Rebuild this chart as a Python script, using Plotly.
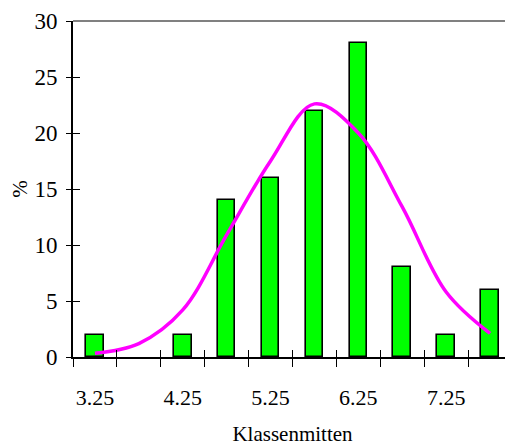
import plotly.graph_objects as go

categories = ["3.25", "3.75", "4.25", "4.75", "5.25", "5.75", "6.25", "6.75", "7.25", "7.75"]
percent = [2, 0, 2, 14, 16, 22, 28, 8, 2, 6]
normal_curve = [0.33, 1.2, 4.2, 10.9, 17.5, 22.6, 20.0, 13.4, 5.8, 2.1]
x_tick_text = ["3.25", "", "4.25", "", "5.25", "", "6.25", "", "7.25", ""]
y_tick_vals = [0, 5, 10, 15, 20, 25, 30]

FONT = "Liberation Serif"

# the page body has an 8px margin, so the figure is sized/positioned to compensate
fig = go.Figure()
fig.add_trace(go.Bar(
    x=categories, y=percent, width=0.4,
    marker=dict(color="#00FF00",
                line=dict(color="black", width=[1.6 if v > 0 else 0 for v in percent])),
    showlegend=False, hoverinfo="skip",
))
fig.add_trace(go.Scatter(
    x=categories, y=normal_curve, mode="lines",
    line=dict(color="#FF00FF", width=3.5, shape="spline", smoothing=1),
    showlegend=False, hoverinfo="skip",
))
# invisible trace to carry the overlay axes (inside half of the cross ticks)
fig.add_trace(go.Scatter(
    x=categories, y=percent, xaxis="x2", yaxis="y2", mode="lines",
    line=dict(width=0), opacity=0, showlegend=False, hoverinfo="skip",
))

cat_range = [-0.5, len(categories) - 0.5]

fig.update_layout(
    width=505, height=438,
    margin=dict(l=65, r=1, t=13, b=89),
    paper_bgcolor="white", plot_bgcolor="white",
    font=dict(family=FONT, color="black"),
    bargap=0,
    xaxis=dict(
        type="category", categoryorder="array", categoryarray=categories,
        range=cat_range, tickmode="array", tickvals=categories, ticktext=x_tick_text,
        tickson="boundaries", ticks="outside", ticklen=8, tickwidth=1.3, tickcolor="black",
        showline=True, linecolor="black", linewidth=1.6, showgrid=False, zeroline=False,
        tickangle=0,
        tickfont=dict(family=FONT, size=22, color="black"),
        ticklabelstandoff=20,
        title=dict(text="Klassenmitten", font=dict(family=FONT, size=21, color="black"), standoff=18),
    ),
    yaxis=dict(
        range=[0, 30], tickmode="array", tickvals=y_tick_vals,
        ticks="outside", ticklen=5, tickwidth=1.3, tickcolor="black",
        showline=True, linecolor="black", linewidth=1.6, showgrid=False, zeroline=False,
        tickfont=dict(family=FONT, size=23, color="black"),
        ticklabelstandoff=4,
        title=dict(text="%", font=dict(family=FONT, size=21, color="black"), standoff=10),
    ),
    xaxis2=dict(
        overlaying="x", anchor="y2", side="bottom",
        type="category", categoryorder="array", categoryarray=categories,
        range=cat_range, tickmode="array", tickvals=categories,
        tickson="boundaries", ticks="inside", ticklen=7, tickwidth=1.3, tickcolor="black",
        showticklabels=False, showline=False, showgrid=False, zeroline=False,
    ),
    yaxis2=dict(
        overlaying="y", anchor="x2", side="left",
        range=[0, 30], tickmode="array", tickvals=y_tick_vals,
        ticks="inside", ticklen=7, tickwidth=1.3, tickcolor="black",
        showticklabels=False, showline=False, showgrid=False, zeroline=False,
    ),
    shapes=[
        dict(type="line", xref="paper", yref="paper", x0=0, x1=1, y0=1, y1=1,
             line=dict(color="#808080", width=2)),
        dict(type="line", xref="paper", yref="paper", x0=1, x1=1, y0=0, y1=1,
             line=dict(color="#E8E8E8", width=1)),
    ],
)

fig.write_html("out.html")
